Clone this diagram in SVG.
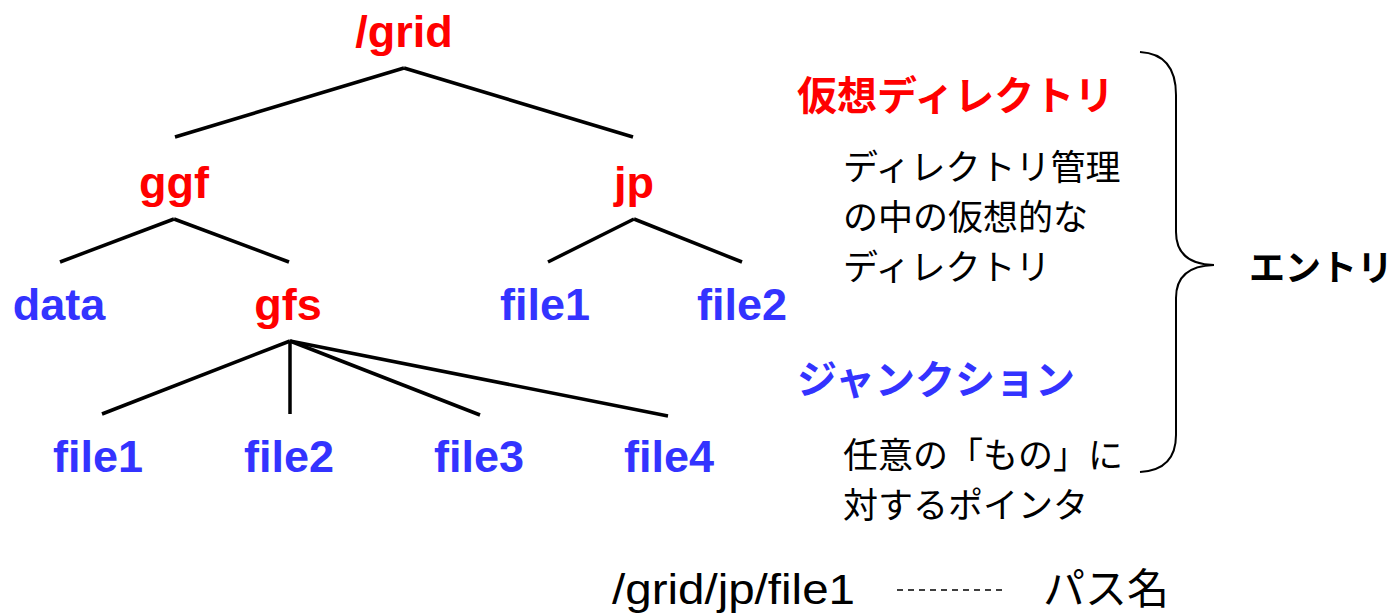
<svg xmlns="http://www.w3.org/2000/svg" width="1399" height="615" viewBox="0 0 1399 615">
<style>
.n{font-family:"Liberation Sans",Arial,sans-serif;font-weight:bold;font-size:45px;text-anchor:middle}
.r{fill:#FF0000}
.b{fill:#3333FF}
.j{font-family:"Noto Sans CJK JP",sans-serif}
.h{font-weight:bold;font-size:40px}
.t{font-size:35px;fill:#000}
.e{stroke:#000;stroke-width:3.5;fill:none}
</style>
<rect width="1399" height="615" fill="#fff"/>
<g id="connectors" class="e">
<line x1="404" y1="68" x2="175" y2="137"/>
<line x1="404" y1="68" x2="633" y2="137"/>
<line x1="174" y1="219" x2="60" y2="262"/>
<line x1="174" y1="219" x2="289" y2="262"/>
<line x1="634" y1="219" x2="548" y2="262"/>
<line x1="634" y1="219" x2="742" y2="262"/>
<line x1="290" y1="341" x2="102" y2="414"/>
<line x1="290" y1="341" x2="290" y2="414"/>
<line x1="290" y1="341" x2="480" y2="415"/>
<line x1="290" y1="341" x2="668" y2="416"/>
</g>
<g id="n-grid"><text class="n r" x="404" y="47" font-size="46">/grid</text></g>
<g id="n-ggf"><text class="n r" x="174" y="198">ggf</text></g>
<g id="n-jp"><text class="n r" x="634" y="198">jp</text></g>
<g id="n-data"><text class="n b" x="59" y="320">data</text></g>
<g id="n-gfs"><text class="n r" x="288" y="320">gfs</text></g>
<g id="n-jp-file1"><text class="n b" x="545" y="320">file1</text></g>
<g id="n-jp-file2"><text class="n b" x="742" y="320">file2</text></g>
<g id="n-file1"><text class="n b" x="98" y="472">file1</text></g>
<g id="n-file2"><text class="n b" x="289" y="472">file2</text></g>
<g id="n-file3"><text class="n b" x="479" y="472">file3</text></g>
<g id="n-file4"><text class="n b" x="669" y="472">file4</text></g>
<g id="legend">
<text class="j h" x="797" y="110" fill="#FF0000">仮想ディレクトリ</text>
<text class="j t" x="843" y="180">ディレクトリ管理</text>
<text class="j t" x="843" y="230">の中の仮想的な</text>
<text class="j t" x="843" y="280">ディレクトリ</text>
<text class="j h" x="797" y="394" fill="#3333FF" font-size="39">ジャンクション</text>
<text class="j t" x="843" y="468">任意の「もの」に</text>
<text class="j t" x="843" y="518">対するポインタ</text>
<path d="M1140,52 Q1176,54 1176,95 L1176,232 Q1176,264 1214,265 Q1176,266 1176,298 L1176,435 Q1176,470 1140,472" fill="none" stroke="#000" stroke-width="2"/>
<text class="j" x="1249" y="281" font-size="36" font-weight="bold" fill="#000">エントリ</text>
<text x="612" y="604" font-family="Liberation Sans,Arial,sans-serif" font-size="42" textLength="243" lengthAdjust="spacingAndGlyphs">/grid/jp/file1</text>
<line x1="897" y1="590" x2="1003" y2="590" stroke="#000" stroke-width="1.5" stroke-dasharray="6,5"/>
<text class="j" x="1043" y="604" font-size="42" fill="#000">パス名</text>
</g>
</svg>
